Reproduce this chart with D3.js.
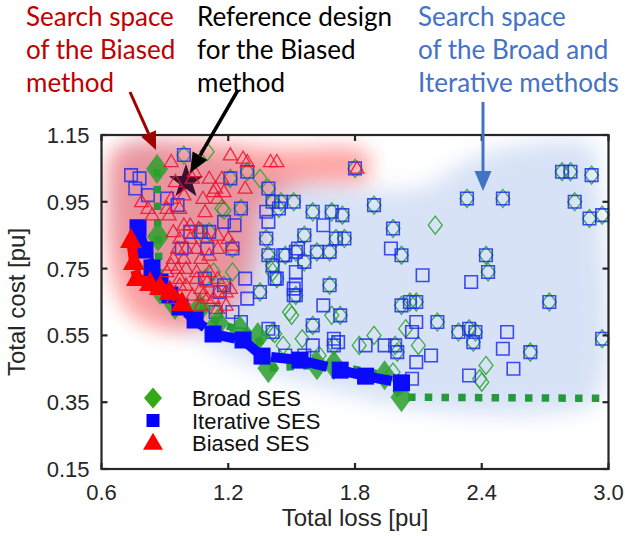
<!DOCTYPE html>
<html><head><meta charset="utf-8">
<script src="https://cdn.jsdelivr.net/npm/d3@7"></script>
<style>body{margin:0;background:#fff}svg{display:block}</style>
</head><body>
<svg id="chart" width="625" height="536"></svg>
<script>
// ---------------- data ----------------
const xTicks = [0.6, 1.2, 1.8, 2.4, 3.0];
const yTicks = [0.15, 0.35, 0.55, 0.75, 0.95, 1.15];

// designs visited by both the Broad and the Iterative search
const sharedLoss = [1.80,1.45,1.51,1.44,1.60,1.69,1.74,1.89,1.56,1.98,1.71,1.75,1.52,1.47,1.62,1.68,2.02,1.56,1.41,1.43,1.68,1.52,1.73,2.02,2.06,2.09,2.19,1.60,1.70,1.99,2.00,2.42,2.43,2.72,2.29,2.34,2.37,2.36,2.63,2.97,2.78,2.82,2.92,2.33,2.50,2.84,2.91,2.97,
  0.99,1.21,1.29,1.39,1.41,1.26,1.07,1.11,1.22,1.38,1.39,1.35,1.09,1.18,1.14];
const sharedCost = [1.05,0.95,0.95,0.93,0.92,0.92,0.91,0.94,0.85,0.87,0.84,0.84,0.80,0.79,0.80,0.80,0.79,0.77,0.76,0.72,0.70,0.67,0.61,0.64,0.65,0.65,0.59,0.58,0.52,0.52,0.50,0.79,0.74,0.65,0.56,0.57,0.56,0.53,0.50,0.54,1.04,1.04,1.03,0.96,0.96,0.95,0.90,0.91,
  1.09,1.02,1.04,0.99,0.95,0.93,0.86,0.86,0.81,0.84,0.79,0.68,0.72,0.70,0.62];

// designs visited only by the Iterative search
const iterLoss = [1.65,1.97,2.12,1.51,1.65,2.09,2.07,1.70,1.72,1.85,1.94,1.60,1.47,1.56,2.16,2.09,2.07,2.35,2.52,2.50,2.55,2.34,
  0.74,0.78,0.76,0.82,0.91,0.96,1.18,1.23,1.02,0.98,1.10,1.38,1.39,1.46,1.53,1.52,1.42,1.28,1.29,1.16,1.22,1.26,1.52,1.51,1.39,1.41];
const iterCost = [0.88,0.81,0.73,0.69,0.64,0.59,0.56,0.54,0.53,0.52,0.52,0.52,0.49,0.49,0.49,0.47,0.42,0.71,0.56,0.51,0.45,0.43,
  1.03,1.02,0.99,0.97,0.96,0.94,0.89,0.88,0.86,0.81,0.81,0.92,0.89,0.79,0.81,0.74,0.72,0.72,0.66,0.68,0.62,0.59,0.70,0.67,0.57,0.56];

// designs visited only by the Broad search
const broadLoss = [2.18,1.69,1.50,2.04,2.10,1.89,1.41,1.42,1.82,1.55,1.46,1.63,1.98,2.42,2.39,2.40,1.10,1.17,1.18,1.13,1.22,1.49,1.41,1.35];
const broadCost = [0.88,0.61,0.61,0.57,0.52,0.55,0.56,0.555,0.52,0.54,0.52,0.49,0.44,0.46,0.42,0.41,1.10,0.93,0.925,0.74,0.74,0.62,0.74,1.02];

// designs visited by the Biased search
const biasedLoss = [0.93,1.04,1.11,1.21,1.27,1.29,1.40,1.43,1.81,1.28,1.18,1.14,1.08,1.15,0.97,0.91,0.82,0.84,0.92,0.99,1.02,1.02,0.97,0.96,1.00,1.05,1.10,1.15,1.20,1.11,1.15,0.94,0.99,1.07,0.93,0.91,0.96,1.00,1.05,0.97,1.05,1.10,1.00,1.07,1.15,1.03,1.08,1.13,1.19,1.21,1.11,1.15,1.07,1.15,1.10,1.19,0.97,0.92,0.94,
  0.95,0.99,0.93,1.03,1.17,1.22,1.13,1.09,1.06,0.94,0.79];
const biasedCost = [1.07,1.04,1.02,1.09,1.08,1.07,1.07,1.07,1.05,0.99,0.98,0.99,0.96,0.96,0.93,0.93,0.93,0.91,0.91,0.88,0.88,0.84,0.84,0.81,0.81,0.81,0.84,0.85,0.84,0.79,0.81,0.78,0.78,0.78,0.76,0.74,0.75,0.75,0.74,0.72,0.72,0.71,0.70,0.69,0.68,0.67,0.67,0.66,0.68,0.69,0.74,0.72,0.64,0.63,0.66,0.64,0.70,0.69,0.66,
  1.01,0.97,0.96,1.02,1.02,0.82,0.98,0.92,0.87,0.86,0.95];

// Pareto fronts of the three strategies
const broadSESLoss = [0.863,0.867,0.877,0.948,1.066,1.151,1.255,1.34,1.39,1.62,1.70,1.94,2.02,3.40];
const broadSESCost = [1.048,0.845,0.686,0.641,0.632,0.587,0.566,0.545,0.452,0.461,0.461,0.431,0.365,0.36];
const iterSESLoss = [0.773,0.806,0.839,0.877,0.924,0.972,1.043,1.128,1.27,1.36,1.54,1.73,1.85,2.02];
const iterSESCost = [0.872,0.806,0.752,0.71,0.671,0.635,0.596,0.554,0.536,0.488,0.476,0.446,0.428,0.408];
const biasedSESLoss = [0.74,0.754,0.768,0.83,0.877,0.924,0.981];
const biasedSESCost = [0.836,0.77,0.722,0.707,0.695,0.68,0.647];

// reference design for the Biased method
const refLoss = 1.00, refCost = 1.01;

// outlines of the two search spaces
const broadSpaceLoss = [0.735,1.54,2.11,2.34,2.58,2.92,2.95,2.95,2.77,2.11,1.68,1.35,1.07,0.83,0.69,0.66];
const broadSpaceCost = [1.12,1.015,0.99,1.075,1.12,1.12,1.03,0.36,0.32,0.33,0.39,0.45,0.54,0.66,0.81,1.02];
const biasedSpaceLoss = [0.66,1.07,1.445,1.85,1.86,1.54,1.37,1.33,1.26,1.10,0.95,0.76,0.66,0.63];
const biasedSpaceCost = [1.105,1.13,1.11,1.10,1.02,1.00,0.94,0.81,0.67,0.59,0.56,0.60,0.70,0.96];

// ---------------- drawing ----------------
const svg = d3.select("#chart");
const L = 101.5, R = 608.5, T = 135, B = 469;
const x = d3.scaleLinear([0.6, 3.0], [L, R]);
const y = d3.scaleLinear([0.15, 1.15], [B, T]);
const zip = (a, b) => a.map((v, i) => [v, b[i]]);

const defs = svg.append("defs");
defs.append("clipPath").attr("id", "plotClip")
  .append("rect").attr("x", L).attr("y", T).attr("width", R - L).attr("height", B - T);
defs.append("filter").attr("id", "hazeBlue").attr("x", "-30%").attr("y", "-30%").attr("width", "160%").attr("height", "160%")
  .append("feGaussianBlur").attr("stdDeviation", 11);
defs.append("filter").attr("id", "hazeRed").attr("x", "-30%").attr("y", "-30%").attr("width", "160%").attr("height", "160%")
  .append("feGaussianBlur").attr("stdDeviation", 10);

const diamond = (w, h) => `M0,${-h/2}L${w/2},0L0,${h/2}L${-w/2},0Z`;
const square = s => `M${-s/2},${-s/2}h${s}v${s}h${-s}Z`;
const triangle = (w, h) => `M0,${-h*0.6}L${w/2},${h*0.4}L${-w/2},${h*0.4}Z`;
function star(ro, ri) {
  let p = "";
  for (let i = 0; i < 10; i++) {
    const r = i % 2 ? ri : ro, a = -Math.PI / 2 + i * Math.PI / 5;
    p += (i ? "L" : "M") + (r * Math.cos(a)).toFixed(2) + "," + (r * Math.sin(a)).toFixed(2);
  }
  return p + "Z";
}

const plot = svg.append("g").attr("clip-path", "url(#plotClip)");
const outline = d3.line().x(d => x(d[0])).y(d => y(d[1])).curve(d3.curveCatmullRomClosed.alpha(0.5));

// Broad / Iterative search space
plot.append("path").datum(zip(broadSpaceLoss, broadSpaceCost))
  .attr("d", outline).attr("fill", "#d7e2f6").attr("filter", "url(#hazeBlue)");

const marks = svg.append("g");
function scatter(g, pts, path, attrs) {
  const sel = g.append("g").selectAll("path").data(pts).join("path")
    .attr("d", path).attr("transform", d => `translate(${x(d[0])},${y(d[1])})`);
  for (const k in attrs) sel.attr(k, attrs[k]);
  return sel;
}

const broadAll = zip(sharedLoss, sharedCost).concat(zip(broadLoss, broadCost));
const iterAll = zip(sharedLoss, sharedCost).concat(zip(iterLoss, iterCost));

scatter(marks, broadAll, diamond(14, 18), {fill: "none", stroke: "#2ea52e", "stroke-width": 1.3, "stroke-opacity": 0.9});
scatter(marks, iterAll, square(12.5), {fill: "none", stroke: "#1f2ff0", "stroke-width": 1.6, "stroke-opacity": 0.85});

// Pareto fronts: Broad (dotted) and Iterative (dashed)
const front = d3.line().x(d => x(d[0])).y(d => y(d[1]));
const fronts = svg.append("g").attr("clip-path", "url(#plotClip)");
fronts.append("path").datum(zip(broadSESLoss, broadSESCost)).attr("d", front)
  .attr("fill", "none").attr("stroke", "#249a3c").attr("stroke-width", 7.5).attr("stroke-dasharray", "7.5,9.2");
scatter(fronts, zip(broadSESLoss, broadSESCost), diamond(22, 30), {fill: "#2ca02c", "fill-opacity": 0.85});
fronts.append("path").datum(zip(iterSESLoss, iterSESCost)).attr("d", front)
  .attr("fill", "none").attr("stroke", "#0a0aff").attr("stroke-width", 10).attr("stroke-dasharray", "24,9");
scatter(fronts, zip(iterSESLoss, iterSESCost), square(17), {fill: "#0a0aff"});

// reference design
svg.append("path").attr("d", star(18, 7)).attr("transform", `translate(${x(refLoss)},${y(refCost)})`).attr("fill", "#3a1030");

// Biased search space (drawn over the other markers)
plot.append("path").datum(zip(biasedSpaceLoss, biasedSpaceCost))
  .attr("d", outline).attr("fill", "#ff2a2a").attr("opacity", 0.42).attr("filter", "url(#hazeRed)");

// Biased samples and front
scatter(svg.append("g"), zip(biasedLoss, biasedCost), triangle(14, 12), {fill: "none", stroke: "#ee1530", "stroke-width": 1.25, "stroke-opacity": 0.9});
const bf = svg.append("g").attr("clip-path", "url(#plotClip)");
bf.append("path").datum(zip(biasedSESLoss, biasedSESCost)).attr("d", front)
  .attr("fill", "none").attr("stroke", "#ff0000").attr("stroke-width", 10).attr("stroke-dasharray", "22,9");
scatter(bf, zip(biasedSESLoss, biasedSESCost), triangle(22, 20), {fill: "#ff0000"});

// frame and ticks
const axisCol = "#262626";
svg.append("rect").attr("x", L).attr("y", T).attr("width", R - L).attr("height", B - T)
  .attr("fill", "none").attr("stroke", axisCol).attr("stroke-width", 2.2);
const tk = svg.append("g").attr("stroke", axisCol).attr("stroke-width", 2.2);
xTicks.forEach(v => {
  tk.append("line").attr("x1", x(v)).attr("x2", x(v)).attr("y1", B).attr("y2", B - 6);
  tk.append("line").attr("x1", x(v)).attr("x2", x(v)).attr("y1", T).attr("y2", T + 6);
});
yTicks.forEach(v => {
  tk.append("line").attr("y1", y(v)).attr("y2", y(v)).attr("x1", L).attr("x2", L + 6);
  tk.append("line").attr("y1", y(v)).attr("y2", y(v)).attr("x1", R).attr("x2", R - 6);
});
const tickFont = "'Liberation Sans', Arial, Helvetica, sans-serif";
const lab = svg.append("g").attr("font-family", tickFont).attr("fill", axisCol);
xTicks.forEach(v => lab.append("text").attr("x", x(v)).attr("y", B + 31).attr("text-anchor", "middle")
  .attr("font-size", 22).text(d3.format(".1f")(v)));
yTicks.forEach(v => lab.append("text").attr("x", L - 12).attr("y", y(v) + 8).attr("text-anchor", "end")
  .attr("font-size", 22).text(d3.format(".2f")(v)));
lab.append("text").attr("x", (L + R) / 2).attr("y", 526).attr("text-anchor", "middle").attr("font-size", 24).text("Total loss [pu]");
lab.append("text").attr("transform", `translate(25,${(T + B) / 2}) rotate(-90)`).attr("text-anchor", "middle")
  .attr("font-size", 24).text("Total cost [pu]");

// legend
const leg = svg.append("g").attr("font-family", tickFont).attr("font-size", 22).attr("fill", "#111");
const legendItems = [
  {name: "Broad SES", shape: diamond(18, 21), color: "#35a815"},
  {name: "Iterative SES", shape: square(13), color: "#0000ff"},
  {name: "Biased SES", shape: triangle(20, 17), color: "#ff0000"}
];
legendItems.forEach((d, i) => {
  const cy = 398 + i * 22.5;
  leg.append("path").attr("d", d.shape).attr("transform", `translate(153,${cy})`).attr("fill", d.color);
  leg.append("text").attr("x", 192).attr("y", cy + 8).text(d.name);
});

// annotations
const noteFont = "Lato, 'Open Sans', sans-serif";
function note(lines, x0, color) {
  const t = svg.append("text").attr("font-family", noteFont).attr("font-size", 26).attr("fill", color);
  lines.forEach((s, i) => t.append("tspan").attr("x", x0).attr("y", 26 + i * 33).text(s));
}
note(["Search space", "of the Biased", "method"], 26, "#c00000");
note(["Reference design", "for the Biased", "method"], 197, "#000000");
note(["Search space", "of the Broad and", "Iterative methods"], 418, "#4472c4");

function arrow(x1, y1, x2, y2, color, w, hl, hw) {
  const a = Math.atan2(y2 - y1, x2 - x1);
  const bx = x2 - hl * Math.cos(a), by = y2 - hl * Math.sin(a);
  svg.append("line").attr("x1", x1).attr("y1", y1).attr("x2", bx).attr("y2", by)
    .attr("stroke", color).attr("stroke-width", w);
  const px = -Math.sin(a) * hw / 2, py = Math.cos(a) * hw / 2;
  svg.append("path").attr("d", `M${x2},${y2}L${bx + px},${by + py}L${bx - px},${by - py}Z`).attr("fill", color);
}
arrow(130, 92, 156, 150, "#a00000", 3, 18, 16);
arrow(238, 90, 190, 173, "#000000", 3.5, 20, 17);
arrow(483, 102, 483, 191, "#4472c4", 3, 20, 17);
</script>
</body></html>
